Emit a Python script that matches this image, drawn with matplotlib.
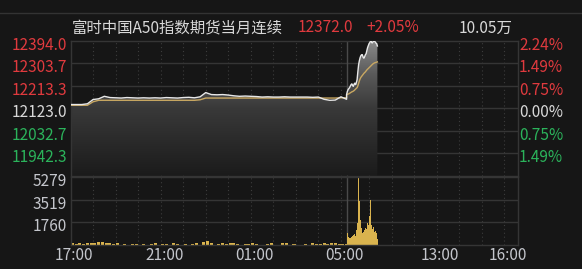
import matplotlib
matplotlib.use('Agg')
import matplotlib.pyplot as plt
import matplotlib.transforms as mtransforms
from matplotlib.colors import LinearSegmentedColormap
from matplotlib.lines import Line2D
import numpy as np

plt.rcParams['font.family'] = ['Noto Sans CJK SC', 'DejaVu Sans']

# header
title = '富时中国A50指数期货当月连续'
last_price = '12372.0'
last_change = '+2.05%'
turnover = '10.05万'

# price axis
prev_close = 12123.0
price_ticks = [12394.0, 12303.7, 12213.3, 12123.0, 12032.7, 11942.3]
price_tick_labels = ['12394.0', '12303.7', '12213.3', '12123.0', '12032.7', '11942.3']
pct_tick_labels = ['2.24%', '1.49%', '0.75%', '0.00%', '0.75%', '1.49%']
price_low, price_high = 11851.7, 12394.0

# volume axis
vol_ticks = [5279, 3519, 1760]
vol_tick_labels = ['5279', '3519', '1760']
vol_high = 5279

# time axis (minutes counted on the trading axis, 17:00 = 0, 09:00 starts at 735)
time_labels = ['17:00', '21:00', '01:00', '05:00', '13:00', '16:00']
time_label_min = [0, 240, 480, 720, 975, 1155]
night_len = 735
axis_len = 1190

# night session 17:00-05:15, one value every 15 min
night_price = [12137, 12137, 12137, 12140, 12157, 12160, 12170, 12165, 12164, 12163,
               12165, 12164, 12163, 12164, 12163, 12164, 12163, 12165, 12164, 12163,
               12165, 12166, 12164, 12168, 12185, 12177, 12176, 12177, 12175, 12172,
               12170, 12171, 12170, 12169, 12167, 12168, 12167, 12167, 12168, 12167,
               12167, 12167, 12167, 12166, 12167, 12158, 12154, 12155, 12168, 12158]
night_avg = [12134, 12134, 12134, 12134, 12148, 12154, 12154, 12154, 12154, 12154,
             12154, 12154, 12154, 12154, 12154, 12154, 12154, 12154, 12154, 12154,
             12154, 12154, 12154, 12156, 12163, 12163, 12163, 12163, 12163, 12163,
             12163, 12163, 12163, 12163, 12163, 12163, 12163, 12163, 12163, 12163,
             12163, 12163, 12163, 12163, 12163, 12163, 12163, 12163, 12164, 12164]

# day session from 09:00, one value every 2 min
day_price = [12177, 12189, 12197, 12201, 12205, 12211, 12217, 12220, 12213, 12210,
             12219, 12223, 12217, 12225, 12237, 12269, 12297, 12313, 12325, 12333,
             12337, 12337, 12327, 12323, 12329, 12337, 12341, 12354, 12366, 12374,
             12382, 12386, 12392, 12390, 12384, 12388, 12390, 12394, 12388, 12384,
             12382, 12372]
day_avg = [12177, 12178, 12179, 12180, 12182, 12184, 12186, 12188, 12189, 12191,
           12193, 12196, 12199, 12202, 12205, 12212, 12222, 12232, 12240, 12246,
           12250, 12254, 12258, 12262, 12265, 12268, 12272, 12276, 12279, 12282,
           12285, 12288, 12291, 12294, 12297, 12300, 12302, 12304, 12305, 12306,
           12307, 12308]

# volume: night every 10 min, day every 2 min
night_vol = [80, 60, 90, 70, 100, 150, 150, 210, 180, 110,
             130, 60, 80, 0, 70, 0, 60, 50, 0, 70,
             0, 60, 80, 0, 70, 60, 0, 80, 60, 0,
             70, 0, 60, 80, 0, 180, 290, 110, 0, 60,
             80, 70, 140, 90, 60, 0, 70, 60, 80, 70,
             0, 0, 60, 80, 0, 0, 140, 100, 0, 60,
             0, 0, 70, 0, 80, 70, 60, 80, 70, 110,
             90, 70, 60, 50]
day_vol = [1780, 900, 550, 500, 620, 480, 600, 700, 560, 750,
           820, 700, 900, 1100, 1650, 5279, 4700, 3400, 1900, 1300,
           1050, 900, 1000, 1150, 1050, 1300, 1250, 1700, 1800, 1500,
           2200, 3450, 1900, 1500, 1250, 1350, 1200, 1000, 1050, 900,
           700, 450]

bg = '#161616'
grid_c = '#353535'
red = '#e03a3e'
green = '#2bb35b'
white = '#d8d8d8'
vol_c = '#d9b34e'
fs = 11.1

fig = plt.figure(figsize=(5.82, 2.69), dpi=100, facecolor=bg)
ax = fig.add_axes([70.5 / 582, 1 - 175.6 / 269, 447 / 582, 135.1 / 269], facecolor=bg)
axv = fig.add_axes([70.5 / 582, 1 - 244.5 / 269, 447 / 582, 67.5 / 269], facecolor=bg)


def px(dx, dy):
    return mtransforms.ScaledTranslation(dx / 100, dy / 100, fig.dpi_scale_trans)


night_x = np.arange(len(night_price)) * 15
day_x = night_len + np.arange(len(day_price)) * 2
xs = np.concatenate([night_x, day_x])
ps = np.array(night_price + day_price, dtype=float)
avgs = np.array(night_avg + day_avg, dtype=float)

# gray gradient under the price line
cmap = LinearSegmentedColormap.from_list(
    'fillg', [(0, '#1b1b1b'), (0.5, '#393939'), (0.75, '#5a5a5a'), (1, '#8c8c8c')])
grad = np.linspace(0, 1, 256).reshape(-1, 1)
im = ax.imshow(grad, extent=[0, axis_len, price_low, price_high], origin='lower',
               aspect='auto', cmap=cmap, zorder=1)
poly = ax.fill_between(xs, ps, price_low, color='none', lw=0)
im.set_clip_path(poly.get_paths()[0], transform=ax.transData)

ax.plot(xs, avgs, color='#c9a862', lw=1, zorder=3)
ax.plot(xs, ps, color='#e8e8e8', lw=1, zorder=4)

night_vx = np.arange(len(night_vol)) * 10
day_vx = night_len + np.arange(len(day_vol)) * 2
axv.bar(night_vx + 1, night_vol, width=8, align='edge', color=vol_c, lw=0)
axv.bar(day_vx, day_vol, width=2, align='edge', color=vol_c, lw=0)

for a, lo, hi in [(ax, price_low, price_high), (axv, 0, vol_high)]:
    a.set_xlim(0, axis_len)
    a.set_ylim(lo, hi)
    a.set_xticks([])
    a.set_yticks([])
    for s in a.spines.values():
        s.set_color(grid_c)
        s.set_linewidth(1)
    hours = list(range(60, night_len, 60)) + list(range(night_len + 60, axis_len, 60))
    for h in hours:
        a.axvline(h, color='#3c3c3c', lw=0.8, ls=(0, (1, 2.5)), zorder=0.5)
    a.axvline(night_len, color='#4a4a4a', lw=1, zorder=0.6)

for v in price_ticks[1:]:
    ax.axhline(v, color=grid_c, lw=1, zorder=0.5)
for v in vol_ticks[1:]:
    axv.axhline(v, color=grid_c, lw=1, zorder=0.5)


def sign_color(v):
    if v > prev_close:
        return red
    if v < prev_close:
        return green
    return white


lt = mtransforms.blended_transform_factory(ax.transAxes, ax.transData)
for v, lab, pct in zip(price_ticks, price_tick_labels, pct_tick_labels):
    c = sign_color(v)
    ax.text(0, v, lab, transform=lt + px(-3.5, -4.5), ha='right', va='center',
            fontsize=fs, color=c)
    ax.text(1, v, pct, transform=lt + px(1.5, -4.5), ha='left', va='center',
            fontsize=fs, color=c)

vt = mtransforms.blended_transform_factory(axv.transAxes, axv.transData)
for v, lab in zip(vol_ticks, vol_tick_labels):
    axv.text(0, v, lab, transform=vt + px(-3.5, -5), ha='right', va='center',
             fontsize=fs, color='#c4c6cc')

xt = mtransforms.blended_transform_factory(axv.transData, axv.transAxes)
for m, lab in zip(time_label_min, time_labels):
    axv.text(m, 0, lab, transform=xt + px(3.5, -11.5), ha='center', va='center',
             fontsize=fs, color='#c4c6cc')

# header line
ty = 1 - 28 / 269
fig.text(72 / 582, ty, title, ha='left', va='center', fontsize=fs, color=white)
fig.text(298 / 582, ty, last_price, ha='left', va='center', fontsize=fs, color=red)
fig.text(366.5 / 582, ty, last_change, ha='left', va='center', fontsize=fs, color=red)
fig.text(459 / 582, ty, turnover, ha='left', va='center', fontsize=fs, color=white)
fig.add_artist(Line2D([0, 1], [1 - 12.5 / 269] * 2, color='#333333', lw=1))

fig.savefig('out.png', dpi=100, facecolor=bg)
